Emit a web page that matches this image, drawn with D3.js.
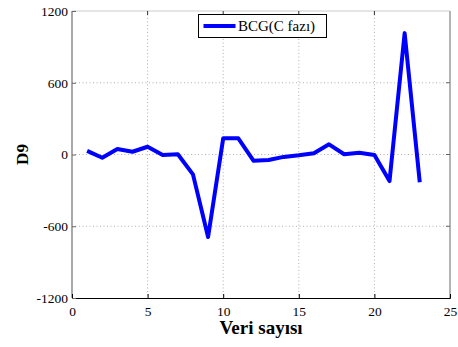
<!DOCTYPE html>
<html>
<head>
<meta charset="utf-8">
<script src="https://cdn.jsdelivr.net/npm/d3@7"></script>
<style>
  html, body { margin: 0; padding: 0; background: #fff; }
  svg { display: block; }
  text { font-family: "Liberation Serif", "Times New Roman", serif; }
</style>
</head>
<body>
<svg id="chart" width="458" height="347"></svg>
<script>
// BCG (C fazı) D9 values per sample
const sampleIndex = [1, 2, 3, 4, 5, 6, 7, 8, 9, 10, 11, 12, 13, 14, 15, 16, 17, 18, 19, 20, 21, 22, 23];
const d9Values = [30, -27, 46, 23, 65, -5, 2, -166, -690, 135, 135, -52, -46, -20, -7, 10, 85, 2, 15, -4, -222, 1015, -232];
const xTicks = [0, 5, 10, 15, 20, 25];
const yTicks = [-1200, -600, 0, 600, 1200];
const seriesName = "BCG(C fazı)";

const svg = d3.select("#chart");
const m = { left: 72, right: 450, top: 11, bottom: 298 };

const x = d3.scaleLinear().domain([0, 25]).range([m.left, m.right]);
const y = d3.scaleLinear().domain([-1200, 1200]).range([m.bottom, m.top]);

// dotted grid
const grid = svg.append("g");
grid.selectAll("line.gx").data(xTicks.filter(d => d > 0 && d < 25)).join("line")
  .attr("x1", d => x(d)).attr("x2", d => x(d))
  .attr("y1", m.top).attr("y2", m.bottom)
  .attr("stroke", "#b0b0b0").attr("stroke-width", 1).attr("stroke-dasharray", "1,2.5");
grid.selectAll("line.gy").data(yTicks.filter(d => d > -1200 && d < 1200)).join("line")
  .attr("x1", m.left).attr("x2", m.right)
  .attr("y1", d => y(d)).attr("y2", d => y(d))
  .attr("stroke", "#b0b0b0").attr("stroke-width", 1).attr("stroke-dasharray", "1,2.5");

// frame
svg.append("line").attr("x1", m.left).attr("x2", m.right).attr("y1", m.top).attr("y2", m.top)
  .attr("stroke", "#e6e6e6").attr("stroke-width", 2);
svg.append("line").attr("x1", m.right).attr("x2", m.right).attr("y1", m.top).attr("y2", m.bottom)
  .attr("stroke", "#b4b4b4").attr("stroke-width", 2);
svg.append("line").attr("x1", m.left).attr("x2", m.left).attr("y1", m.top).attr("y2", m.bottom)
  .attr("stroke", "#a8a8a8").attr("stroke-width", 2);

const fmt = d => String(d);

// x axis (ticks inside)
const xAxis = d3.axisBottom(x).tickValues(xTicks).tickSize(-4).tickPadding(8).tickFormat(fmt);
const gx = svg.append("g").attr("transform", `translate(0,${m.bottom})`).call(xAxis);
gx.select(".domain").attr("stroke", "#000");
gx.selectAll(".tick line").attr("stroke", "#000");
gx.selectAll("text").attr("font-size", 13.5).attr("fill", "#000")
  .attr("font-family", "Liberation Serif, serif");

// top ticks
svg.append("g").selectAll("line").data(xTicks.filter(d => d > 0 && d < 25)).join("line")
  .attr("x1", d => x(d)).attr("x2", d => x(d))
  .attr("y1", m.top).attr("y2", m.top + 4).attr("stroke", "#333");

// y axis (ticks inside)
const yAxis = d3.axisLeft(y).tickValues(yTicks).tickSize(-4).tickPadding(4).tickFormat(fmt);
const gy = svg.append("g").attr("transform", `translate(${m.left},0)`).call(yAxis);
gy.select(".domain").remove();
gy.selectAll(".tick line").attr("stroke", "#666");
gy.selectAll("text").attr("font-size", 13.5).attr("fill", "#000")
  .attr("font-family", "Liberation Serif, serif");

// right ticks
svg.append("g").selectAll("line").data(yTicks.filter(d => d > -1200 && d < 1200)).join("line")
  .attr("x1", m.right - 4).attr("x2", m.right)
  .attr("y1", d => y(d)).attr("y2", d => y(d)).attr("stroke", "#666");

// series line
const line = d3.line().x((d, i) => x(sampleIndex[i])).y(d => y(d));
svg.append("path").datum(d9Values)
  .attr("d", line)
  .attr("fill", "none").attr("stroke", "#0000ff").attr("stroke-width", 4)
  .attr("stroke-linejoin", "round").attr("stroke-linecap", "butt");

// legend
const lg = svg.append("g").attr("transform", "translate(198.5,14.5)");
lg.append("rect").attr("width", 128).attr("height", 23)
  .attr("fill", "#fff").attr("stroke", "#000").attr("stroke-width", 1);
lg.append("line").attr("x1", 5).attr("x2", 37).attr("y1", 11.5).attr("y2", 11.5)
  .attr("stroke", "#0000ff").attr("stroke-width", 4);
lg.append("text").attr("x", 39.5).attr("y", 16.5).attr("font-size", 15).attr("fill", "#000")
  .text(seriesName);

// axis titles
svg.append("text").attr("x", 261).attr("y", 334).attr("text-anchor", "middle")
  .attr("font-size", 19).attr("font-weight", "bold").text("Veri sayısı");
svg.append("text").attr("transform", `translate(28,${y(0)}) rotate(-90)`)
  .attr("text-anchor", "middle").attr("font-size", 17).attr("font-weight", "bold").text("D9");
</script>
</body>
</html>
